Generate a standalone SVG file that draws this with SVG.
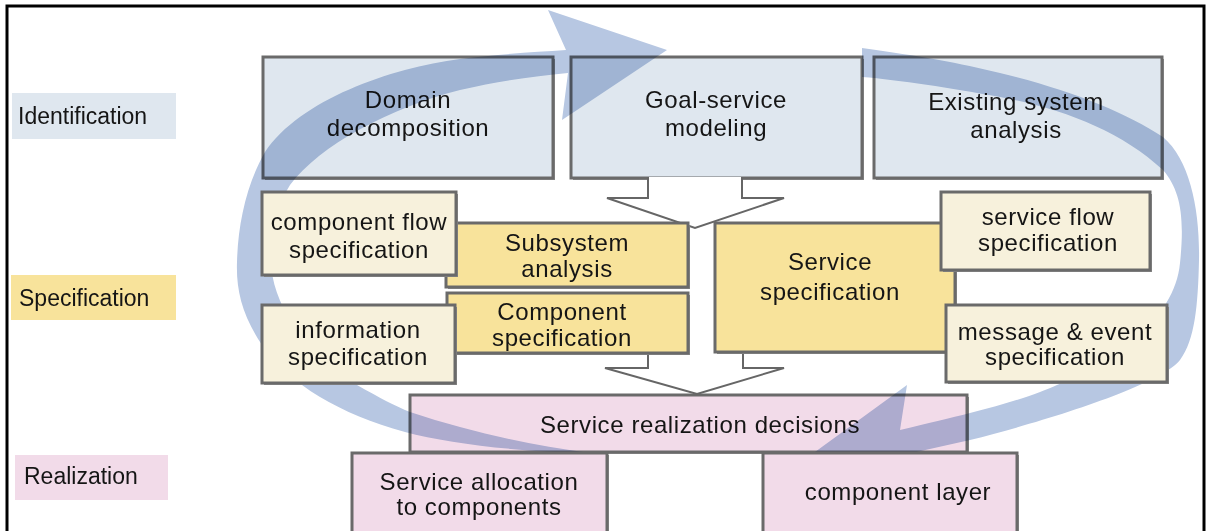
<svg xmlns="http://www.w3.org/2000/svg" width="1209" height="531" viewBox="0 0 1209 531">
<style>
text { font-family: "Liberation Sans", Arial, sans-serif; fill: #151515; }
.t { font-size: 24px; letter-spacing: 0.6px; text-anchor: middle; }
.lab { font-size: 23px; }
.box { stroke: #6a6a6a; stroke-width: 3; }
.sh { fill: #8e8e8e; }
.blue { fill: #dfe7ef; }
.cream { fill: #f7f1dc; }
.yel { fill: #f8e39b; }
.pink { fill: #f2dbe9; }
.ring { fill: #b7c7e2; mix-blend-mode: multiply; }
.chev { fill: #ffffff; stroke: #666666; stroke-width: 2; stroke-linejoin: miter; }
</style>
<rect x="0" y="0" width="1209" height="531" fill="#ffffff"/>
<rect x="7" y="6" width="1197" height="545" fill="none" stroke="#000000" stroke-width="3"/>

<g id="label-identification">
  <rect x="12" y="93" width="164" height="46" class="blue"/>
  <text x="18" y="124" class="lab">Identification</text>
</g>
<g id="label-specification">
  <rect x="11" y="275" width="165" height="45" class="yel"/>
  <text x="19" y="306" class="lab">Specification</text>
</g>
<g id="label-realization">
  <rect x="15" y="455" width="153" height="45" class="pink"/>
  <text x="24" y="484" class="lab">Realization</text>
</g>

<g id="domain-decomposition">
  <rect x="265" y="59" width="290" height="121" class="sh"/>
  <rect x="263" y="57" width="290" height="121" class="box blue"/>
  <text x="408" y="108" class="t">Domain</text>
  <text x="408" y="136" class="t">decomposition</text>
</g>
<g id="goal-service-modeling">
  <rect x="573" y="59" width="291" height="121" class="sh"/>
  <rect x="571" y="57" width="291" height="121" class="box blue"/>
  <text x="716" y="108" class="t">Goal-service</text>
  <text x="716" y="136" class="t">modeling</text>
</g>
<g id="existing-system-analysis">
  <rect x="876" y="59" width="288" height="121" class="sh"/>
  <rect x="874" y="57" width="288" height="121" class="box blue"/>
  <text x="1016" y="110" class="t">Existing system</text>
  <text x="1016" y="138" class="t">analysis</text>
</g>
<g id="service-realization-decisions">
  <rect x="412" y="397" width="557" height="57" class="sh"/>
  <rect x="410" y="395" width="557" height="57" class="box pink"/>
  <text x="700" y="433" class="t">Service realization decisions</text>
</g>

<g id="connectors">
  <path class="chev" d="M648,177 V198 H607 L695,228 L784,198 H742 V177"/>
  <path class="chev" d="M648,340 V368 H605 L697,394 L784,368 H743 V340"/>
  <path class="ring" d="M590,453 C520,452 450,444 405,432 C340,414 290,385 262,345 C242,315 236,290 237,262 C238,225 246,185 265,152 C300,100 390,68 460,59 C500,54 535,52 566,50 L548,10 L667,50 L562,120 L568,73 C535,76 500,81 460,90 C390,108 320,145 290,185 C276,207 270,235 271,262 C272,300 300,350 357,385 C380,398 395,406 410,412 C470,432 530,445 590,453 Z"/>
  <path class="ring" d="M862,48 C920,56 960,63 1000,73 C1070,90 1125,112 1163,137 C1190,160 1200,210 1199,260 C1198,305 1195,340 1180,360 C1160,385 1050,420 970,440 L903,455 L889,497 L793,468 L907,385 L900,430 C930,423 950,418 970,413 C1010,403 1040,393 1057,385 C1110,365 1175,320 1180,263 C1185,215 1180,190 1163,170 C1120,130 1060,108 1000,97 C950,88 900,80 862,77 Z"/>
</g>

<g id="subsystem-analysis">
  <rect x="448" y="225" width="242" height="64" class="sh"/>
  <rect x="446" y="223" width="242" height="64" class="box yel"/>
  <text x="567" y="251" class="t">Subsystem</text>
  <text x="567" y="277" class="t">analysis</text>
</g>
<g id="component-flow-specification">
  <rect x="264" y="194" width="194" height="83" class="sh"/>
  <rect x="262" y="192" width="194" height="83" class="box cream"/>
  <text x="359" y="230" class="t">component flow</text>
  <text x="359" y="258" class="t">specification</text>
</g>
<g id="component-specification">
  <rect x="449" y="295" width="241" height="60" class="sh"/>
  <rect x="447" y="293" width="241" height="60" class="box yel"/>
  <text x="562" y="320" class="t">Component</text>
  <text x="562" y="346" class="t">specification</text>
</g>
<g id="information-specification">
  <rect x="264" y="307" width="193" height="78" class="sh"/>
  <rect x="262" y="305" width="193" height="78" class="box cream"/>
  <text x="358" y="338" class="t">information</text>
  <text x="358" y="365" class="t">specification</text>
</g>
<g id="service-specification">
  <rect x="717" y="225" width="240" height="129" class="sh"/>
  <rect x="715" y="223" width="240" height="129" class="box yel"/>
  <text x="830" y="270" class="t">Service</text>
  <text x="830" y="300" class="t">specification</text>
</g>
<g id="service-flow-specification">
  <rect x="943" y="194" width="209" height="78" class="sh"/>
  <rect x="941" y="192" width="209" height="78" class="box cream"/>
  <text x="1048" y="225" class="t">service flow</text>
  <text x="1048" y="251" class="t">specification</text>
</g>
<g id="message-event-specification">
  <rect x="948" y="307" width="221" height="77" class="sh"/>
  <rect x="946" y="305" width="221" height="77" class="box cream"/>
  <text x="1055" y="340" class="t">message &amp; event</text>
  <text x="1055" y="365" class="t">specification</text>
</g>

<g id="service-allocation">
  <rect x="354" y="455" width="255" height="90" class="sh"/>
  <rect x="352" y="453" width="255" height="90" class="box pink"/>
  <text x="479" y="490" class="t">Service allocation</text>
  <text x="479" y="515" class="t">to components</text>
</g>
<g id="component-layer">
  <rect x="765" y="455" width="254" height="90" class="sh"/>
  <rect x="763" y="453" width="254" height="90" class="box pink"/>
  <text x="898" y="500" class="t">component layer</text>
</g>
</svg>
